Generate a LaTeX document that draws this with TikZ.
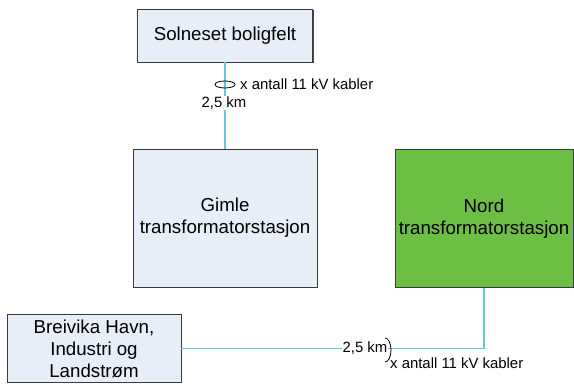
\documentclass[tikz,border=0pt]{standalone}
\usepackage{fontspec}
\setmainfont{Liberation Sans}
\usetikzlibrary{shapes.geometric,shadows}
\definecolor{boxfill}{HTML}{E8EEF7}
\definecolor{nordgreen}{HTML}{6DBE45}
\definecolor{cablecol}{HTML}{62CAD9}
\definecolor{edgecol}{HTML}{3A3A3A}
\tikzset{
  box/.style={draw=edgecol, line width=0.8pt, fill=boxfill, rectangle, inner sep=0pt,
    align=center, font=\fontsize{18.7}{22}\selectfont,
    drop shadow={shadow xshift=1pt, shadow yshift=-1pt, fill=black!70, opacity=1}},
  cable/.style={draw=cablecol, line width=1.6pt},
  lbl/.style={inner sep=0pt, font=\fontsize{14.9}{17}\selectfont},
  ring/.style={draw=black, line width=0.8pt}
}
\begin{document}
\begin{tikzpicture}[x=1pt, y=-1pt]
\useasboundingbox (0,0) rectangle (574,385);
\fill[white] (0,0) rectangle (574,385);
\node[box, minimum width=175pt, minimum height=53pt] (sol) at (225,35.5) {Solneset boligfelt};
\node[box, minimum width=184pt, minimum height=138pt] (gimle) at (225,218) {Gimle\\transformatorstasjon};
\node[box, fill=nordgreen, minimum width=178pt, minimum height=138pt] (nord) at (484,218.5) {Nord\\transformatorstasjon};
\node[box, minimum width=174pt, minimum height=68pt] (brei) at (94,348.5) {Breivika Havn,\\Industri og\\Landstrøm};
\draw[cable] (sol.south) -- (gimle.north);
\draw[cable] (brei.east) -| (nord.south);
\node[ring, ellipse, minimum width=20pt, minimum height=7pt, inner sep=0pt] (ring1) at (225,84.5) {};
\node[lbl, anchor=west] (lab1) at (240,84) {x antall 11 kV kabler};
\node[lbl, fill=white, inner sep=1pt] (km1) at (224,103) {2,5 km};
\node[lbl, fill=white, inner sep=1pt] (km2) at (365,348.5) {2,5 km};
\coordinate (arcTop) at (385,338);
\draw[ring] (arcTop) arc[start angle=-90, end angle=90, x radius=6, y radius=12] coordinate (arcBot);
\node[lbl, anchor=west] (lab2) at (390,363.5) {x antall 11 kV kabler};
\end{tikzpicture}
\end{document}
